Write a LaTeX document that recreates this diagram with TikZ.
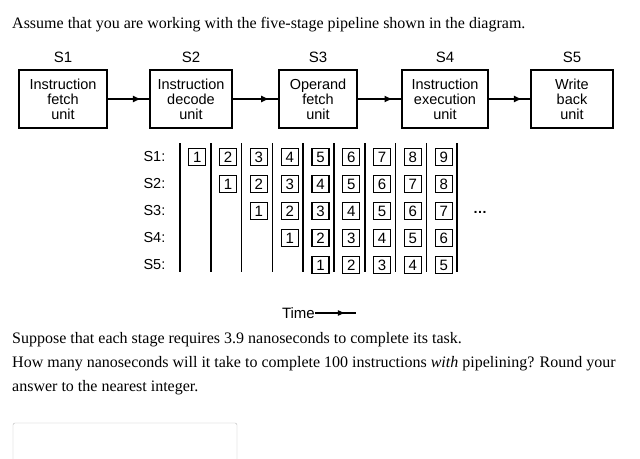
\documentclass[tikz,border=0pt]{standalone}
\usepackage{fontspec}
\setmainfont{Liberation Serif}
\newfontfamily\arial{Liberation Sans}
\usetikzlibrary{arrows.meta,decorations.markings}
\begin{document}
\begin{tikzpicture}[x=1pt,y=-1pt,
  unit/.style={draw,line width=1.4pt,minimum height=58pt,align=center,font=\arial\fontsize{14.5}{15}\selectfont,inner sep=1pt},
  stg/.style={font=\arial\fontsize{15}{16}\selectfont},
  conn/.style={line width=1.3pt,postaction={decorate},decoration={markings,mark=at position 0.8 with {\arrow{Latex[length=8pt,width=7pt]}}}},
  cell/.style={draw,line width=1.1pt,minimum size=17pt,inner sep=0pt,font=\arial\fontsize{15}{16}\selectfont},
  rl/.style={font=\arial\fontsize{14.5}{16}\selectfont,anchor=west},
  txt/.style={anchor=west,font=\fontsize{16}{18}\selectfont,inner sep=0pt}]
\useasboundingbox[fill=white] (0,0) rectangle (640,458);
\node[txt] (t0) at (12,25) {Assume that you are working with the five-stage pipeline shown in the diagram.};
\node[unit,minimum width=88pt] (u1) at (63,99) {Instruction\\fetch\\unit};
\node[unit,minimum width=82pt] (u2) at (191,99) {Instruction\\decode\\unit};
\node[unit,minimum width=78pt] (u3) at (318,99) {Operand\\fetch\\unit};
\node[unit,minimum width=86pt] (u4) at (445,99) {Instruction\\execution\\unit};
\node[unit,minimum width=82pt] (u5) at (572,99) {Write\\back\\unit};
\foreach \i in {1,...,5}{\node[stg] (s\i) at (u\i.north) [above=3pt] {S\i};}
\draw[conn] (u1) -- (u2);
\draw[conn] (u2) -- (u3);
\draw[conn] (u3) -- (u4);
\draw[conn] (u4) -- (u5);
\foreach \k in {0,...,9}{\draw[line width=1.5pt] (180+30.8*\k,143) -- (180+30.8*\k,272);}
\foreach \r in {1,...,5}{\node[rl] (r\r) at (140,130+27*\r) {S\r:};}
\foreach \c in {1,...,9}{
  \foreach \r in {1,...,5}{
    \pgfmathtruncatemacro{\v}{\c-\r+1}
    \ifnum\v>0
      \node[cell] (c\c\r) at (166.5+30.8*\c,130+27*\r) {\v};
    \fi
  }}
\node[font=\arial\bfseries\fontsize{14}{15}\selectfont] (dots) at (480,212) {\dots};
\node[font=\arial\fontsize{15}{16}\selectfont,anchor=east,inner sep=0pt] (time) at (315,313) {Time};
\coordinate (tend) at (356,313);
\draw[line width=1.1pt,postaction={decorate},decoration={markings,mark=at position 0.75 with {\arrow{Latex[length=8pt,width=6pt]}}}] (time.east) -- (tend);
\node[txt] (p1) at (12,340) {Suppose that each stage requires 3.9 nanoseconds to complete its task.};
\node[txt] (p2) at (12,364) {How many nanoseconds will it take to complete 100 instructions \textit{with} pipelining? Round your};
\node[txt] (p3) at (12,388) {answer to the nearest integer.};
\draw[draw=gray!55,rounded corners=2pt] (13,423) rectangle (237,462);
\end{tikzpicture}
\end{document}
